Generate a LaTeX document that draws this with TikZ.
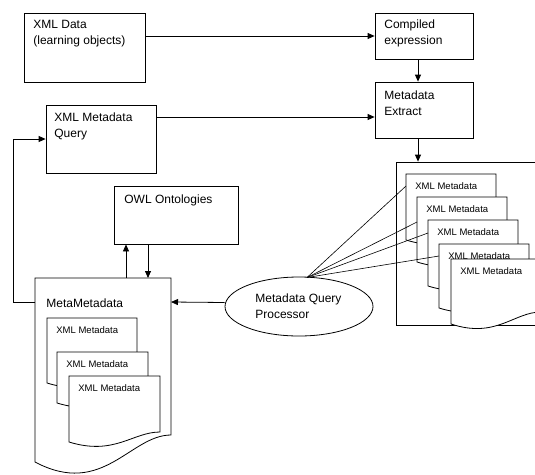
\documentclass[tikz,border=0pt]{standalone}
\usepackage{fontspec}
\setmainfont{Liberation Sans}
\usetikzlibrary{arrows.meta,shapes.geometric,calc}
% document shape: x, ytop, width, y bottom-left, y bottom-right, wave depth
\newcommand\mydoc[6]{%
  \draw[docline] (#1,#4) -- (#1,#2) -- ($(#1,#2)+(#3,0)$) -- ($(#1,#5)+(#3,0)$)
    .. controls ($(#1,#5)+({0.7*#3},0)$) and ($(#1,#4)+({0.5*#3},#6)$) .. (#1,#4) -- cycle;}
\begin{document}
\begin{tikzpicture}[x=1pt,y=-1pt,
  line width=0.8pt,
  box/.style={draw, rectangle, inner sep=0pt, fill=white},
  docline/.style={draw, fill=white},
  lbl/.style={anchor=base west, inner sep=0pt, font=\fontsize{12}{16}\selectfont},
  slbl/.style={anchor=base west, inner sep=0pt, font=\fontsize{9.5}{11}\selectfont},
  arr/.style={-{Triangle[length=7pt,width=6pt]}},
  fanline/.style={line width=0.6pt}
]
\clip (0,0) rectangle (535,474);
\fill[white] (0,0) rectangle (535,474);

% boxes
\node[box, minimum width=121pt, minimum height=69pt] (xmldata) at (84.5,47.5) {};
\node[box, minimum width=98pt, minimum height=46pt] (compiled) at (424,36) {};
\node[box, minimum width=98pt, minimum height=56pt] (extract) at (424,110) {};
\node[box, minimum width=110pt, minimum height=68pt] (query) at (101,139) {};
\node[box, minimum width=124pt, minimum height=58pt] (owl) at (176,215) {};
\node[box, minimum width=150pt, minimum height=163pt] (bigbox) at (471,243.5) {};
\node[draw, ellipse, fill=white, minimum width=148pt, minimum height=59pt, inner sep=0pt] (proc) at (299,306.5) {};

% box texts
\node[lbl] (t1a) at (33,28) {XML Data};
\node[lbl] (t1b) at (33,44) {(learning objects)};
\node[lbl] (t2a) at (384,28.5) {Compiled};
\node[lbl] (t2b) at (384,44.5) {expression};
\node[lbl] (t3a) at (384,99) {Metadata};
\node[lbl] (t3b) at (384,115) {Extract};
\node[lbl] (t4a) at (54,121.5) {XML Metadata};
\node[lbl] (t4b) at (54,137.5) {Query};
\node[lbl] (t5) at (124,203) {OWL Ontologies};
\node[lbl] (t6a) at (255,302) {Metadata Query};
\node[lbl] (t6b) at (255,318) {Processor};

% MetaMetadata document with nested documents
\mydoc{35}{278}{136}{462}{435}{36}
\node[lbl] (t7) at (46,307.5) {MetaMetadata};
\coordinate (mmL) at (35,302);
\coordinate (mmR) at (171,302);
\coordinate (mmT1) at (126,278);
\coordinate (mmT2) at (148,278);
\mydoc{47}{318}{90}{383}{372}{14}
\node[slbl] (l1) at (56,333.5) {XML Metadata};
\mydoc{57}{352}{91}{403}{392}{14}
\node[slbl] (l2) at (66,367.5) {XML Metadata};
\mydoc{69}{376}{91}{442}{432}{14}
\node[slbl] (l3) at (78,391.5) {XML Metadata};

% documents in the big box
\mydoc{406}{174}{90}{240}{229}{14}
\node[slbl] (r1) at (415,189.5) {XML Metadata};
\mydoc{417}{197}{90}{262}{251}{14}
\node[slbl] (r2) at (426,212.5) {XML Metadata};
\mydoc{428}{220}{90}{286}{275}{14}
\node[slbl] (r3) at (437,235.5) {XML Metadata};
\mydoc{439}{244}{90}{308}{297}{14}
\node[slbl] (r4) at (448,259) {XML Metadata};
\mydoc{451}{259}{90}{324}{312}{15}
\node[slbl] (r5) at (460,274.5) {XML Metadata};

% fan lines from the processor
\coordinate (fan) at (307,277.5);
\coordinate (r1e) at (406,186);
\coordinate (r2e) at (417,222);
\coordinate (r3e) at (428,233);
\coordinate (r4e) at (439,256);
\draw[fanline] (fan) -- (r1e);
\draw[fanline] (fan) -- (r2e);
\draw[fanline] (fan) -- (r3e);
\draw[fanline] (fan) -- (r4e);

% connectors
\draw[arr] (xmldata.east |- compiled.west) -- (compiled.west);
\draw[arr] ([xshift=-6pt]compiled.south) -- ([xshift=-6pt]extract.north);
\draw[arr] ([yshift=22pt]query.east) -- ([yshift=22pt]query.east -| extract.west);
\draw[arr] ([xshift=-6pt]extract.south) -- ([xshift=-6pt]extract.south |- bigbox.north);
\draw[arr] (mmL) -- ++(-22,0) |- (query.west);
\draw[arr] ([yshift=4pt]proc.west) -- (mmR);
\draw[arr] (mmT1) -- (mmT1 |- owl.south);
\draw[arr] (mmT2 |- owl.south) -- (mmT2);
\end{tikzpicture}
\end{document}
